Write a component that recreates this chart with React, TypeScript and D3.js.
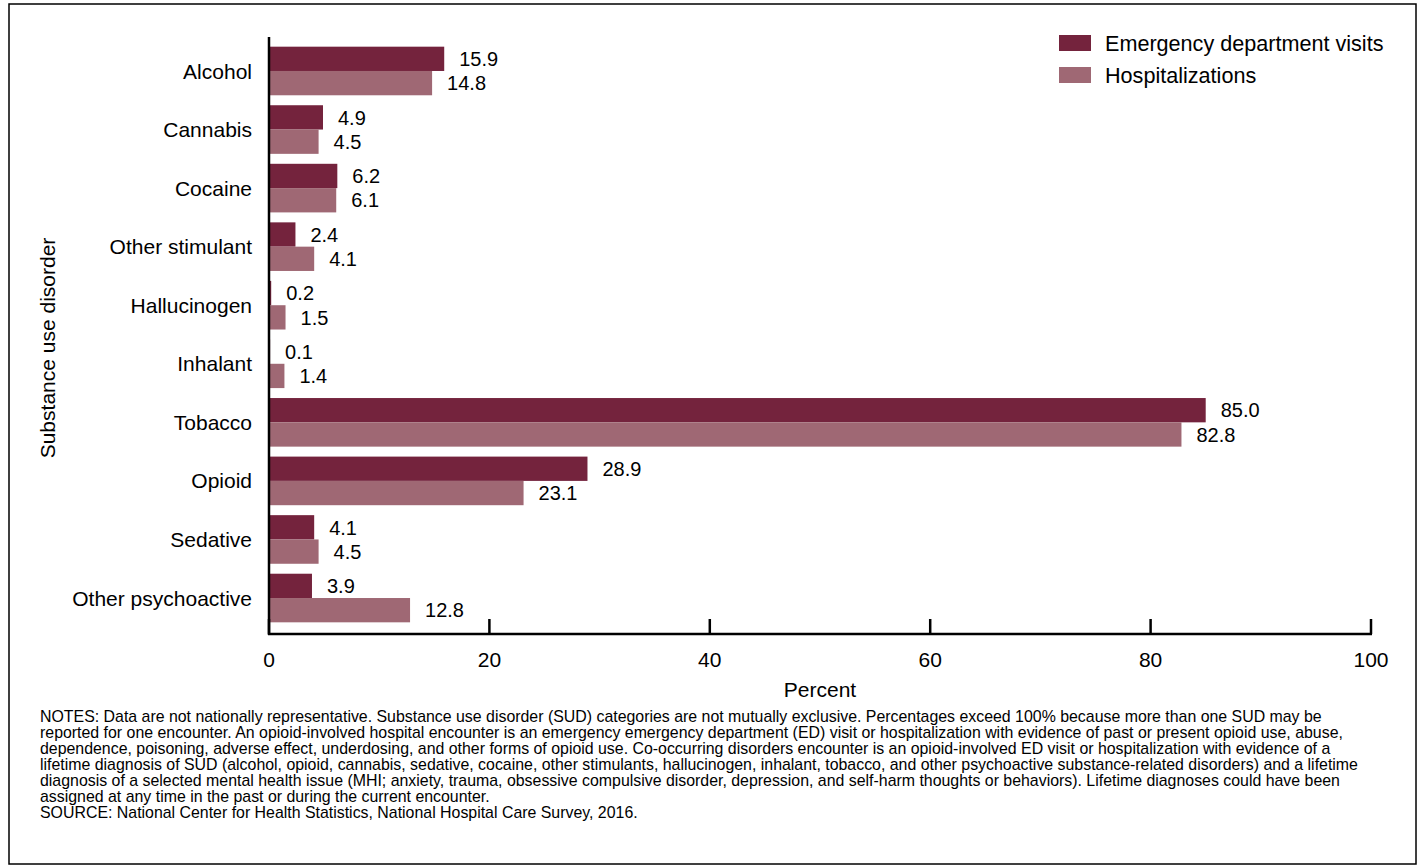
import React from "react";
import * as d3 from "d3";

const categories = ["Alcohol", "Cannabis", "Cocaine", "Other stimulant", "Hallucinogen", "Inhalant", "Tobacco", "Opioid", "Sedative", "Other psychoactive"];
const edVisits = [15.9, 4.9, 6.2, 2.4, 0.2, 0.1, 85.0, 28.9, 4.1, 3.9];
const hospitalizations = [14.8, 4.5, 6.1, 4.1, 1.5, 1.4, 82.8, 23.1, 4.5, 12.8];
const seriesNames = ["Emergency department visits", "Hospitalizations"];
const xTicks = [0, 20, 40, 60, 80, 100];
const notes = [
  "NOTES: Data are not nationally representative. Substance use disorder (SUD) categories are not mutually exclusive. Percentages exceed 100% because more than one SUD may be",
  "reported for one encounter. An opioid-involved hospital encounter is an emergency emergency department (ED) visit or hospitalization with evidence of past or present opioid use, abuse,",
  "dependence, poisoning, adverse effect, underdosing, and other forms of opioid use. Co-occurring disorders encounter is an opioid-involved ED visit or hospitalization with evidence of a",
  "lifetime diagnosis of SUD (alcohol, opioid, cannabis, sedative, cocaine, other stimulants, hallucinogen, inhalant, tobacco, and other psychoactive substance-related disorders) and a lifetime",
  "diagnosis of a selected mental health issue (MHI; anxiety, trauma, obsessive compulsive disorder, depression, and self-harm thoughts or behaviors). Lifetime diagnoses could have been",
  "assigned at any time in the past or during the current encounter.",
  "SOURCE: National Center for Health Statistics, National Hospital Care Survey, 2016.",
];

const colors = ["#74233d", "#9f6874"];
const font = "Arial, 'Liberation Sans', Helvetica, sans-serif";

export default function App() {
  const W = 1426, H = 867;
  const x0 = 269, x1 = 1371;
  const axisY = 634;
  const x = d3.scaleLinear().domain([0, 100]).range([x0, x1]);
  const y = d3.scaleBand<string>().domain(categories).range([41.7, 627.3]).paddingInner(0.17).paddingOuter(0.085);
  const bh = y.bandwidth() / 2;
  const series = [edVisits, hospitalizations];

  return (
    <svg width={W} height={H} style={{ position: "absolute", left: 0, top: 0 }} fontFamily={font}>
      <rect x={0} y={0} width={W} height={H} fill="#fff" />
      <rect x={9} y={4} width={1407} height={860} fill="none" stroke="#000" strokeWidth={1.5} />
      {categories.map((c, i) => (
        <g key={c}>
          {series.map((s, j) => (
            <g key={j}>
              <rect x={x(0)} y={(y(c) as number) + j * bh} width={x(s[i]) - x(0)} height={bh} fill={colors[j]} />
              <text x={x(s[i]) + 15} y={(y(c) as number) + j * bh + bh / 2} dy="0.36em" fontSize={20} fill="#000">
                {s[i].toFixed(1)}
              </text>
            </g>
          ))}
          <text x={252} y={(y(c) as number) + bh} dy="0.36em" textAnchor="end" fontSize={21} fill="#000">
            {c}
          </text>
        </g>
      ))}
      <line x1={x0} x2={x0} y1={37} y2={axisY + 1} stroke="#000" strokeWidth={2.5} />
      <line x1={x0 - 1} x2={x1 + 1} y1={axisY} y2={axisY} stroke="#000" strokeWidth={2.5} />
      {xTicks.map((t) => (
        <g key={t}>
          <line x1={x(t)} x2={x(t)} y1={axisY} y2={axisY - 15} stroke="#000" strokeWidth={2.5} />
          <text x={x(t)} y={659} dy="0.36em" textAnchor="middle" fontSize={21} fill="#000">
            {t}
          </text>
        </g>
      ))}
      <text x={(x0 + x1) / 2} y={689} dy="0.36em" textAnchor="middle" fontSize={21} fill="#000">
        Percent
      </text>
      <text transform="translate(47,348) rotate(-90)" dy="0.36em" textAnchor="middle" fontSize={21} fill="#000">
        Substance use disorder
      </text>
      {seriesNames.map((n, j) => (
        <g key={n}>
          <rect x={1059} y={35 + j * 32} width={32} height={16} fill={colors[j]} />
          <text x={1105} y={43 + j * 32} dy="0.36em" fontSize={21.6} fill="#000">
            {n}
          </text>
        </g>
      ))}
      {notes.map((l, i) => (
        <text key={i} x={40} y={722 + i * 16} fontSize={15.9} fill="#000">
          {l}
        </text>
      ))}
    </svg>
  );
}
